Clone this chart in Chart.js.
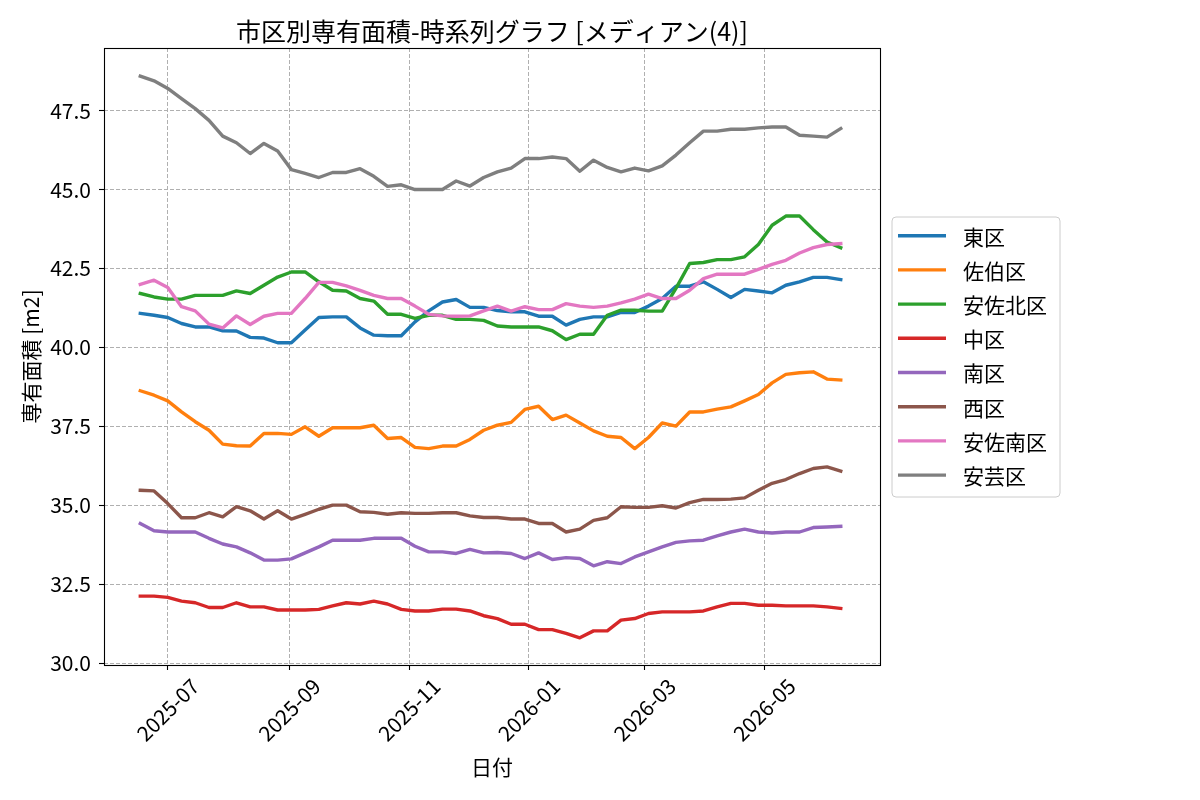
<!DOCTYPE html>
<html><head><meta charset="utf-8">
<script src="https://cdn.jsdelivr.net/npm/chart.js@4.4.0/dist/chart.umd.min.js"></script>
<style>html,body{margin:0;padding:0;background:#fff;}#wrap{width:1200px;height:800px;position:relative;}</style>
</head><body><div id="wrap"><canvas id="c" width="1200" height="800"></canvas></div>
<script>
const dates = ['2025-06-17','2025-06-24','2025-07-01','2025-07-08','2025-07-15','2025-07-22','2025-07-29','2025-08-05','2025-08-12','2025-08-19','2025-08-26','2025-09-02','2025-09-09','2025-09-16','2025-09-23','2025-09-30','2025-10-07','2025-10-14','2025-10-21','2025-10-28','2025-11-04','2025-11-11','2025-11-18','2025-11-25','2025-12-02','2025-12-09','2025-12-16','2025-12-23','2025-12-30','2026-01-06','2026-01-13','2026-01-20','2026-01-27','2026-02-03','2026-02-10','2026-02-17','2026-02-24','2026-03-03','2026-03-10','2026-03-17','2026-03-24','2026-03-31','2026-04-07','2026-04-14','2026-04-21','2026-04-28','2026-05-05','2026-05-12','2026-05-19','2026-05-26','2026-06-02','2026-06-09'];

const higashi = [41.08,41.02,40.95,40.76,40.65,40.65,40.53,40.52,40.32,40.30,40.15,40.15,40.55,40.95,40.97,40.97,40.62,40.39,40.37,40.37,40.81,41.16,41.44,41.52,41.27,41.27,41.17,41.13,41.13,40.99,40.99,40.71,40.89,40.97,40.97,41.11,41.11,41.31,41.55,41.94,41.94,42.08,41.84,41.58,41.84,41.79,41.73,41.97,42.08,42.22,42.22,42.15];
const saeki = [38.63,38.49,38.31,37.96,37.65,37.38,36.94,36.89,36.88,37.28,37.28,37.25,37.49,37.19,37.46,37.46,37.46,37.54,37.12,37.15,36.84,36.80,36.88,36.88,37.09,37.38,37.54,37.63,38.04,38.14,37.72,37.86,37.61,37.36,37.19,37.15,36.80,37.15,37.61,37.51,37.96,37.96,38.05,38.12,38.31,38.51,38.88,39.15,39.20,39.23,39.00,38.97];
const asakita = [41.71,41.60,41.53,41.53,41.65,41.65,41.65,41.79,41.71,41.97,42.23,42.39,42.39,42.08,41.81,41.79,41.55,41.47,41.05,41.05,40.92,41.02,41.02,40.89,40.89,40.86,40.68,40.65,40.65,40.65,40.53,40.25,40.42,40.42,41.02,41.18,41.18,41.15,41.15,41.87,42.66,42.69,42.78,42.78,42.87,43.26,43.87,44.16,44.16,43.73,43.34,43.16];
const naka = [32.13,32.13,32.09,31.97,31.92,31.77,31.77,31.92,31.79,31.79,31.69,31.69,31.69,31.71,31.82,31.92,31.88,31.97,31.88,31.71,31.66,31.66,31.72,31.72,31.66,31.51,31.42,31.24,31.24,31.07,31.07,30.95,30.81,31.03,31.03,31.37,31.42,31.58,31.63,31.63,31.63,31.66,31.79,31.90,31.90,31.84,31.84,31.82,31.82,31.82,31.79,31.74];
const minami = [34.43,34.20,34.16,34.16,34.16,33.96,33.78,33.69,33.50,33.27,33.27,33.31,33.50,33.69,33.90,33.90,33.90,33.96,33.96,33.96,33.71,33.53,33.53,33.48,33.61,33.50,33.51,33.48,33.32,33.50,33.29,33.35,33.32,33.09,33.22,33.16,33.37,33.53,33.69,33.83,33.88,33.90,34.04,34.16,34.25,34.16,34.13,34.16,34.16,34.30,34.32,34.34];
const nishi = [35.48,35.46,35.06,34.61,34.61,34.77,34.64,34.96,34.83,34.57,34.83,34.57,34.72,34.88,35.01,35.01,34.80,34.78,34.72,34.77,34.75,34.75,34.77,34.77,34.67,34.62,34.62,34.57,34.57,34.43,34.43,34.16,34.25,34.53,34.61,34.96,34.94,34.94,34.99,34.92,35.09,35.19,35.19,35.20,35.24,35.48,35.70,35.82,36.01,36.17,36.22,36.09];
const asaminami = [42.00,42.13,41.90,41.29,41.16,40.74,40.62,41.00,40.73,40.99,41.08,41.08,41.55,42.06,42.06,41.95,41.81,41.65,41.55,41.55,41.31,41.05,41.00,40.99,41.00,41.16,41.31,41.15,41.29,41.20,41.20,41.39,41.31,41.27,41.31,41.41,41.53,41.69,41.55,41.55,41.81,42.18,42.32,42.32,42.32,42.47,42.63,42.76,42.99,43.16,43.26,43.29];
const aki = [48.59,48.44,48.20,47.88,47.56,47.19,46.69,46.48,46.14,46.46,46.22,45.63,45.51,45.38,45.54,45.54,45.66,45.42,45.10,45.15,45.00,45.00,45.00,45.27,45.11,45.38,45.56,45.68,45.98,45.98,46.03,45.98,45.58,45.93,45.70,45.56,45.68,45.59,45.75,46.09,46.48,46.85,46.85,46.91,46.91,46.95,46.98,46.98,46.72,46.69,46.66,46.93];

const seriesNames = ['東区','佐伯区','安佐北区','中区','南区','西区','安佐南区','安芸区'];
const seriesColors = ['#1f77b4','#ff7f0e','#2ca02c','#d62728','#9467bd','#8c564b','#e377c2','#7f7f7f'];
const seriesValues = [higashi, saeki, asakita, naka, minami, nishi, asaminami, aki];

const xTickLabels = ['2025-07','2025-09','2025-11','2026-01','2026-03','2026-05'];
const yTickValues = [30.0,32.5,35.0,37.5,40.0,42.5,45.0,47.5];

const titleText = '市区別専有面積-時系列グラフ [メディアン(4)]';
const xLabelText = '日付';
const yLabelText = '専有面積 [m2]';

const FONT = "'Noto Sans CJK JP','Noto Sans',sans-serif";
const BASE = Date.UTC(2025,6,1);
const toDay = s => (Date.parse(s + 'T00:00:00Z') - BASE) / 86400000;
const xDays = dates.map(toDay);
const xTickDays = xTickLabels.map(s => toDay(s + '-01'));

const datasets = seriesNames.map((name, i) => ({
  label: name,
  data: seriesValues[i].map((v, k) => ({x: xDays[k], y: v})),
  borderColor: seriesColors[i],
  backgroundColor: seriesColors[i],
  borderWidth: 3.4,
  pointRadius: 0,
  tension: 0,
  fill: false,
  borderCapStyle: 'square',
  borderJoinStyle: 'round',
  order: seriesNames.length - i
}));

const deco = {
  id: 'deco',
  afterDraw(chart) {
    const ctx = chart.ctx;
    const a = chart.chartArea;
    const xs = chart.scales.x;
    ctx.save();
    ctx.strokeStyle = '#000';
    ctx.lineWidth = 1.1;
    ctx.setLineDash([]);
    ctx.strokeRect(a.left + 0.5, a.top + 0.5, a.right - a.left, a.bottom - a.top);
    ctx.fillStyle = '#000';
    const fs = 21;
    ctx.font = fs + 'px ' + FONT;
    xTickLabels.forEach((lab, i) => {
      const px = xs.getPixelForValue(xTickDays[i]);
      const w = ctx.measureText(lab).width;
      const H = (w + fs) / Math.SQRT2;
      const cy = a.bottom + 10 + H / 2;
      ctx.save();
      ctx.translate(px, cy);
      ctx.rotate(-Math.PI / 4);
      ctx.textAlign = 'center';
      ctx.textBaseline = 'middle';
      ctx.fillText(lab, 0, 0);
      ctx.restore();
    });
    ctx.font = '25px ' + FONT;
    ctx.textAlign = 'center';
    ctx.textBaseline = 'middle';
    ctx.fillText(titleText, (a.left + a.right) / 2, 31);
    ctx.font = '21px ' + FONT;
    ctx.fillText(xLabelText, (a.left + a.right) / 2, 767);
    ctx.save();
    ctx.translate(31, (a.top + a.bottom) / 2);
    ctx.rotate(-Math.PI / 2);
    ctx.fillText(yLabelText, 0, 0);
    ctx.restore();
    const lx = 892, ly = 217, lw = 168, lh = 280, r = 4;
    ctx.beginPath();
    ctx.moveTo(lx + r, ly);
    ctx.arcTo(lx + lw, ly, lx + lw, ly + lh, r);
    ctx.arcTo(lx + lw, ly + lh, lx, ly + lh, r);
    ctx.arcTo(lx, ly + lh, lx, ly, r);
    ctx.arcTo(lx, ly, lx + lw, ly, r);
    ctx.closePath();
    ctx.fillStyle = 'rgba(255,255,255,0.8)';
    ctx.fill();
    ctx.strokeStyle = '#cccccc';
    ctx.lineWidth = 1;
    ctx.stroke();
    ctx.font = '21px ' + FONT;
    ctx.textAlign = 'left';
    ctx.textBaseline = 'middle';
    chart.data.datasets.forEach((ds, i) => {
      const cy = 235.7 + 34.2 * i;
      ctx.strokeStyle = ds.borderColor;
      ctx.lineWidth = 3.4;
      ctx.lineCap = 'butt';
      ctx.beginPath();
      ctx.moveTo(898, cy);
      ctx.lineTo(946, cy);
      ctx.stroke();
      ctx.fillStyle = '#000';
      ctx.fillText(ds.label, 963, cy + 1);
    });
    ctx.restore();
  }
};

new Chart(document.getElementById('c'), {
  type: 'line',
  data: {datasets},
  options: {
    responsive: false,
    animation: false,
    devicePixelRatio: 1,
    layout: {padding: {left: 0, right: 320, top: 48, bottom: 0}},
    plugins: {legend: {display: false}, title: {display: false}, tooltip: {enabled: false}},
    scales: {
      x: {
        type: 'linear',
        min: -32.5,
        max: 363,
        afterFit(s) { s.height = 135; },
        afterBuildTicks(s) { s.ticks = xTickDays.map(v => ({value: v})); },
        ticks: {display: false},
        grid: {color: '#b0b0b0', lineWidth: 1, drawTicks: true, tickLength: 5, tickColor: '#000', tickWidth: 1.1, tickBorderDash: []},
        border: {display: false, dash: [4, 2]}
      },
      y: {
        type: 'linear',
        min: 29.95,
        max: 49.48,
        afterFit(s) { s.width = 104; },
        afterBuildTicks(s) { s.ticks = yTickValues.map(v => ({value: v})); },
        ticks: {
          color: '#000',
          font: {family: FONT, size: 21},
          padding: 8,
          callback: v => Number(v).toFixed(1)
        },
        grid: {color: '#b0b0b0', lineWidth: 1, drawTicks: true, tickLength: 5, tickColor: '#000', tickWidth: 1.1, tickBorderDash: []},
        border: {display: false, dash: [4, 2]}
      }
    }
  },
  plugins: [deco]
});
</script>
</body></html>
